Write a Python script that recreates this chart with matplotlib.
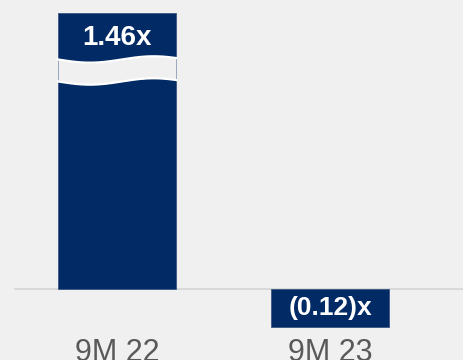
import numpy as np
import matplotlib
matplotlib.use("Agg")
import matplotlib.pyplot as plt

periods = ["9M 22", "9M 23"]
ratios = [1.46, -0.12]
labels = ["1.46x", "(0.12)x"]

navy = "#022b66"
bg = "#f0f0f0"

# broken y axis: values above BREAK are squeezed by SQUEEZE
BREAK = 0.69
SQUEEZE = 0.2357


def forward(v):
    v = np.asarray(v, dtype=float)
    return np.where(v <= BREAK, v, BREAK + (v - BREAK) * SQUEEZE)


def inverse(u):
    u = np.asarray(u, dtype=float)
    return np.where(u <= BREAK, u, BREAK + (u - BREAK) / SQUEEZE)


plt.rcParams["font.family"] = ["Liberation Sans", "DejaVu Sans"]

fig = plt.figure(figsize=(4.64, 3.6), dpi=100, facecolor=bg)
ax = fig.add_axes([14 / 464, 30 / 360, 450 / 464, 330 / 360])
ax.set_facecolor(bg)
ax.set_yscale("function", functions=(forward, inverse))

x = np.arange(len(periods))
width = 0.554
ax.axhline(0, color="#d9d9d9", lw=1.5, zorder=1)
bars = ax.bar(x, ratios, width=width, color=navy, edgecolor="#3a5683",
              linewidth=0.6, zorder=2)

ax.set_xlim(-0.4836, 1.629)
ax.set_ylim(-0.1295, 1.634)

# wavy break across the tall bar
px = 1 / 316.7
t = np.linspace(0, 1, 200)
wx = x[0] - width / 2 + t * width
wave = -3.2 * px * np.sin(1.85 * np.pi * t)
top = inverse(BREAK + 11 * px + wave)
bot = inverse(BREAK - 11 * px + wave)
ax.fill_between(wx, bot, top, color=bg, lw=0, zorder=3)
ax.plot(wx, top, color="white", lw=1.6, zorder=4)
ax.plot(wx, bot, color="white", lw=1.6, zorder=4)

ax.annotate(labels[0], (x[0], ratios[0]), xytext=(0, -25),
            textcoords="offset pixels", ha="center", va="center",
            color="white", fontsize=20, fontweight="bold", zorder=5)
ax.annotate(labels[1], (x[1], ratios[1] / 2), ha="center", va="center",
            color="white", fontsize=19, fontweight="bold", zorder=5)

ax.set_xticks(x, periods)
ax.tick_params(axis="x", length=0, pad=6, labelsize=22, labelcolor="#595959")
ax.set_yticks([])
ax.yaxis.set_minor_locator(matplotlib.ticker.NullLocator())
for s in ax.spines.values():
    s.set_visible(False)

fig.savefig("out.png", dpi=100, facecolor=bg)
